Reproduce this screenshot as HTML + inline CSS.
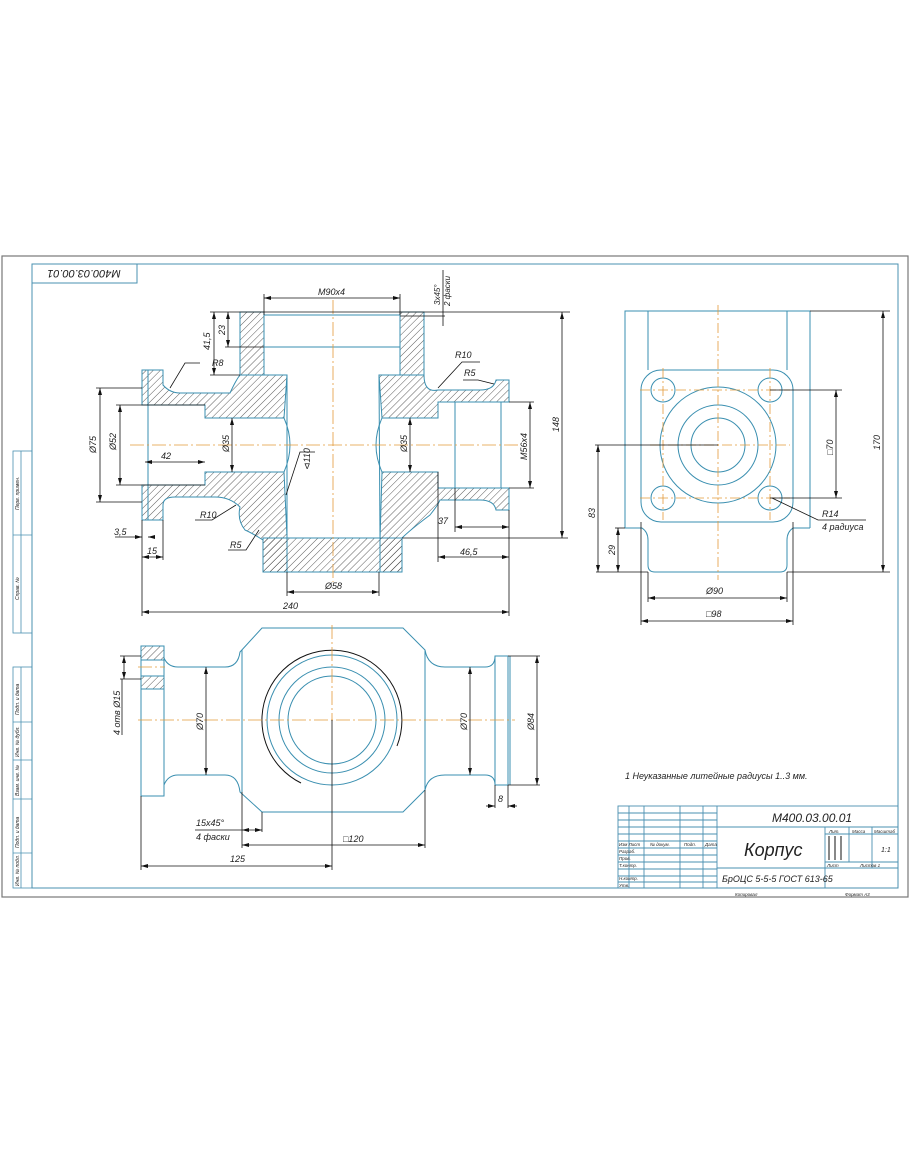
<!DOCTYPE html>
<html><head><meta charset="utf-8"><style>
html,body{margin:0;padding:0;background:#fff;}
svg{display:block;}
text{font-family:"Liberation Sans","DejaVu Sans",sans-serif;font-style:italic;fill:#222;}
</style></head><body>
<svg width="910" height="1155" viewBox="0 0 910 1155" xmlns="http://www.w3.org/2000/svg">
<defs>
<pattern id="h" width="5" height="5" patternUnits="userSpaceOnUse" patternTransform="rotate(45)">
<line x1="0" y1="0" x2="0" y2="5" stroke="#333" stroke-width="0.8"/>
</pattern>
<marker id="a" markerWidth="8" markerHeight="6" refX="7" refY="3" orient="auto-start-reverse" markerUnits="userSpaceOnUse"><path d="M0,1 L7,3 L0,5 z" fill="#111"/></marker>
</defs>
<!-- sheet -->
<rect x="2" y="256" width="906" height="641" fill="none" stroke="#777" stroke-width="1.2"/>
<rect x="32" y="264" width="866" height="624" fill="none" stroke="#4a90b0" stroke-width="1"/>
<rect x="32" y="264" width="105" height="19" fill="none" stroke="#4a90b0"/>
<text x="84" y="278" font-size="11" text-anchor="middle" transform="rotate(180 84 274)">М400.03.00.01</text>
<!-- left strip -->
<g stroke="#4a90b0" fill="none" stroke-width="0.8">
<rect x="13" y="451" width="19" height="182"/><line x1="21" y1="451" x2="21" y2="633"/><line x1="13" y1="535" x2="32" y2="535"/>
<rect x="13" y="667" width="19" height="221"/><line x1="21" y1="667" x2="21" y2="888"/>
<line x1="13" y1="722" x2="32" y2="722"/><line x1="13" y1="760" x2="32" y2="760"/><line x1="13" y1="799" x2="32" y2="799"/><line x1="13" y1="853" x2="32" y2="853"/>
</g>
<g font-size="5">
<text transform="translate(19 510) rotate(-90)">Перв. примен.</text>
<text transform="translate(19 600) rotate(-90)">Справ. №</text>
<text transform="translate(19 715) rotate(-90)">Подп. и дата</text>
<text transform="translate(19 757) rotate(-90)">Инв. № дубл.</text>
<text transform="translate(19 796) rotate(-90)">Взам. инв. №</text>
<text transform="translate(19 848) rotate(-90)">Подп. и дата</text>
<text transform="translate(19 886) rotate(-90)">Инв. № подл.</text>
</g>

<!-- FRONT SECTION VIEW -->
<g fill="url(#h)" stroke="#3a8fb0" stroke-width="1">
<rect x="240" y="312" width="24" height="63"/>
<rect x="400" y="312" width="24" height="63"/>
<path d="M142,370 L163,370 L163,385 Q170,393 180,393 L230,393 Q236,380 240,375 L287,375 L284,418 L205,418 L205,405 L163,405 L163,405 L142,405 Z"/>
<path d="M142,485 L205,485 L205,472 L284,472 L287,537 L287,572 L263,572 L263,540 Q252,533 245,530 Q237,520 240,507 Q230,497 215,497 L175,497 Q163,497 163,505 L163,520 L142,520 Z"/>
<rect x="263" y="538" width="139" height="34"/>
<path d="M379,375 L424,375 Q424,393 438,390 L480,390 Q494,390 496,380 L509,380 L509,402 L438,402 L438,418 L382,418 Z"/>
<path d="M382,472 L438,472 L438,488 L509,488 L509,510 L496,510 Q494,500 480,500 L440,500 Q438,505 430,515 Q410,530 402,538 L402,572 L380,572 L380,540 Z"/>
</g>
<g stroke="#3a8fb0" fill="none" stroke-width="1">
<path d="M264,315 L400,315 L400,347 L264,347 Z"/>
<path d="M284,418 Q296,445 284,472"/><path d="M382,418 Q370,445 382,472"/>
<line x1="148" y1="370" x2="148" y2="520"/><line x1="455" y1="402" x2="455" y2="488"/><line x1="501" y1="402" x2="501" y2="488"/>
<line x1="287" y1="375" x2="287" y2="538"/><line x1="379" y1="375" x2="380" y2="538"/>
</g>
<g stroke="#e39a3a" stroke-width="0.8" stroke-dasharray="14,3,2,3">
<line x1="130" y1="445" x2="520" y2="445"/><line x1="333" y1="300" x2="333" y2="582"/>
</g>
<g stroke="#111" stroke-width="0.8" fill="none">
<line x1="264" y1="298" x2="400" y2="298" marker-start="url(#a)" marker-end="url(#a)"/>
<line x1="264" y1="294" x2="264" y2="315"/><line x1="400" y1="294" x2="400" y2="315"/>
<line x1="210" y1="312" x2="570" y2="312"/><line x1="225" y1="347" x2="264" y2="347"/><line x1="210" y1="375" x2="240" y2="375"/>
<line x1="214" y1="312" x2="214" y2="375" marker-start="url(#a)" marker-end="url(#a)"/>
<line x1="228" y1="312" x2="228" y2="347" marker-start="url(#a)" marker-end="url(#a)"/>
<line x1="443" y1="270" x2="443" y2="326"/><line x1="400" y1="316" x2="445" y2="316"/>
<line x1="562" y1="312" x2="562" y2="538" marker-start="url(#a)" marker-end="url(#a)"/>
<line x1="402" y1="538" x2="568" y2="538"/>
<line x1="100" y1="388" x2="100" y2="502" marker-start="url(#a)" marker-end="url(#a)"/>
<line x1="96" y1="388" x2="142" y2="388"/><line x1="96" y1="502" x2="142" y2="502"/>
<line x1="120" y1="405" x2="120" y2="485" marker-start="url(#a)" marker-end="url(#a)"/>
<line x1="116" y1="405" x2="205" y2="405"/><line x1="116" y1="485" x2="205" y2="485"/>
<line x1="145" y1="462" x2="205" y2="462" marker-start="url(#a)" marker-end="url(#a)"/>
<line x1="232" y1="418" x2="232" y2="472" marker-start="url(#a)" marker-end="url(#a)"/>
<line x1="410" y1="418" x2="410" y2="472" marker-start="url(#a)" marker-end="url(#a)"/>
<line x1="530" y1="402" x2="530" y2="488" marker-start="url(#a)" marker-end="url(#a)"/>
<line x1="509" y1="402" x2="534" y2="402"/><line x1="509" y1="488" x2="534" y2="488"/>
<line x1="455" y1="488" x2="455" y2="532"/><line x1="438" y1="472" x2="438" y2="562"/><line x1="509" y1="510" x2="509" y2="616"/>
<line x1="455" y1="527" x2="509" y2="527" marker-start="url(#a)" marker-end="url(#a)"/>
<line x1="438" y1="557" x2="509" y2="557" marker-start="url(#a)" marker-end="url(#a)"/>
<line x1="142" y1="520" x2="142" y2="616"/><line x1="163" y1="520" x2="163" y2="560"/>
<line x1="115" y1="537" x2="142" y2="537" marker-end="url(#a)"/><line x1="155" y1="537" x2="148" y2="537" marker-end="url(#a)"/>
<line x1="142" y1="557" x2="163" y2="557" marker-start="url(#a)" marker-end="url(#a)"/>
<line x1="142" y1="612" x2="509" y2="612" marker-start="url(#a)" marker-end="url(#a)"/>
<line x1="287" y1="572" x2="287" y2="596"/><line x1="379" y1="572" x2="379" y2="596"/>
<line x1="287" y1="592" x2="379" y2="592" marker-start="url(#a)" marker-end="url(#a)"/>
<path d="M200,363 L185,363 L170,388"/><path d="M480,362 L462,362 L438,388"/><path d="M463,380 L478,380 L494,384"/>
<path d="M195,520 L212,520 L236,505"/><path d="M228,550 L246,550 L259,530"/><path d="M315,452 L300,452 L286,495"/>
</g>
<g font-size="9">
<text x="318" y="295">М90х4</text>
<text x="212" y="366">R8</text><text x="455" y="358">R10</text><text x="464" y="376">R5</text>
<text x="200" y="518">R10</text><text x="230" y="548">R5</text>
<text x="161" y="459">42</text><text x="438" y="524">37</text><text x="460" y="555">46,5</text>
<text x="114" y="535">3,5</text><text x="147" y="554">15</text>
<text x="283" y="609">240</text><text x="325" y="589">Ø58</text>
<text transform="translate(96 453) rotate(-90)">Ø75</text>
<text transform="translate(116 450) rotate(-90)">Ø52</text>
<text transform="translate(229 452) rotate(-90)">Ø35</text>
<text transform="translate(407 452) rotate(-90)">Ø35</text>
<text transform="translate(527 460) rotate(-90)">М56х4</text>
<text transform="translate(559 432) rotate(-90)">148</text>
<text transform="translate(210 350) rotate(-90)">41,5</text>
<text transform="translate(225 335) rotate(-90)">23</text>
<text transform="translate(310 470) rotate(-90)">⊲110</text>
<text transform="translate(440 305) rotate(-90)" font-size="8">3х45°</text>
<text transform="translate(450 306) rotate(-90)" font-size="8">2 фаски</text>
</g>

<!-- SIDE VIEW -->
<g stroke="#3a8fb0" fill="none" stroke-width="1">
<path d="M625,528 L625,311 L810,311 L810,528"/>
<line x1="648" y1="311" x2="648" y2="370"/><line x1="787" y1="311" x2="787" y2="370"/>
<rect x="641" y="370" width="152" height="152" rx="20"/>
<path d="M625,528 L642,528 Q648,532 648,540 L648,565 Q648,572 655,572 L780,572 Q787,572 787,565 L787,540 Q787,532 793,528 L810,528"/>
<circle cx="718" cy="445" r="58"/><circle cx="718" cy="445" r="40"/><circle cx="718" cy="445" r="27"/>
<circle cx="663" cy="390" r="12"/><circle cx="770" cy="390" r="12"/><circle cx="663" cy="498" r="12"/><circle cx="770" cy="498" r="12"/>
</g>
<g stroke="#e39a3a" stroke-width="0.8" stroke-dasharray="10,3,2,3">
<line x1="718" y1="305" x2="718" y2="580"/><line x1="650" y1="445" x2="790" y2="445"/>
<line x1="640" y1="390" x2="790" y2="390"/><line x1="640" y1="498" x2="790" y2="498"/>
<line x1="663" y1="368" x2="663" y2="520"/><line x1="770" y1="368" x2="770" y2="520"/>
</g>
<g stroke="#111" stroke-width="0.8" fill="none">
<line x1="810" y1="311" x2="890" y2="311"/><line x1="787" y1="572" x2="890" y2="572"/>
<line x1="883" y1="311" x2="883" y2="572" marker-start="url(#a)" marker-end="url(#a)"/>
<line x1="770" y1="390" x2="842" y2="390"/><line x1="770" y1="498" x2="842" y2="498"/>
<line x1="836" y1="390" x2="836" y2="498" marker-start="url(#a)" marker-end="url(#a)"/>
<line x1="595" y1="445" x2="718" y2="445"/><line x1="596" y1="572" x2="648" y2="572"/><line x1="615" y1="528" x2="625" y2="528"/>
<line x1="598" y1="445" x2="598" y2="572" marker-start="url(#a)" marker-end="url(#a)"/>
<line x1="618" y1="528" x2="618" y2="572" marker-start="url(#a)" marker-end="url(#a)"/>
<line x1="648" y1="572" x2="648" y2="602"/><line x1="787" y1="572" x2="787" y2="602"/>
<line x1="648" y1="598" x2="787" y2="598" marker-start="url(#a)" marker-end="url(#a)"/>
<line x1="641" y1="522" x2="641" y2="625"/><line x1="793" y1="522" x2="793" y2="625"/>
<line x1="641" y1="621" x2="793" y2="621" marker-start="url(#a)" marker-end="url(#a)"/>
<path d="M772,498 L818,520 L866,520"/>
</g>
<g font-size="9">
<text x="706" y="594">Ø90</text><text x="706" y="617">□98</text>
<text x="822" y="517">R14</text><text x="822" y="530">4 радиуса</text>
<text transform="translate(833 455) rotate(-90)">□70</text>
<text transform="translate(880 450) rotate(-90)">170</text>
<text transform="translate(595 518) rotate(-90)">83</text>
<text transform="translate(615 555) rotate(-90)">29</text>
</g>

<!-- TOP VIEW -->
<g stroke="#3a8fb0" fill="none" stroke-width="1">
<rect x="141" y="646" width="23" height="150"/>
<rect x="141" y="646" width="23" height="14" fill="url(#h)"/><rect x="141" y="676" width="23" height="13" fill="url(#h)"/>
<path d="M164,658 Q168,667 178,667 L225,667 Q238,667 240,652 L262,628 L403,628 L425,650 Q428,667 445,667 L485,667 Q495,667 495,656"/>
<path d="M164,785 Q168,775 178,775 L225,775 Q238,775 240,792 L262,812 L403,812 L425,790 Q428,775 445,775 L485,775 Q495,775 495,785"/>
<line x1="242" y1="650" x2="242" y2="792"/><line x1="425" y1="650" x2="425" y2="790"/>
<rect x="495" y="656" width="13" height="129"/><line x1="510" y1="656" x2="510" y2="785"/>
<circle cx="332" cy="720" r="65"/><circle cx="332" cy="720" r="53"/><circle cx="332" cy="720" r="44"/>
</g>
<path d="M301,783 A70,70 0 1,1 397,746" stroke="#111" fill="none" stroke-width="1"/>
<g stroke="#e39a3a" stroke-width="0.8" stroke-dasharray="14,3,2,3">
<line x1="138" y1="720" x2="515" y2="720"/><line x1="332" y1="625" x2="332" y2="720"/><line x1="138" y1="667" x2="165" y2="667"/>
</g>
<g stroke="#111" stroke-width="0.8" fill="none">
<line x1="332" y1="720" x2="332" y2="870"/>
<line x1="206" y1="667" x2="206" y2="775" marker-start="url(#a)" marker-end="url(#a)"/>
<line x1="470" y1="667" x2="470" y2="775" marker-start="url(#a)" marker-end="url(#a)"/>
<line x1="508" y1="656" x2="540" y2="656"/><line x1="508" y1="785" x2="540" y2="785"/>
<line x1="537" y1="656" x2="537" y2="785" marker-start="url(#a)" marker-end="url(#a)"/>
<line x1="495" y1="785" x2="495" y2="808"/><line x1="508" y1="785" x2="508" y2="808"/>
<line x1="486" y1="806" x2="495" y2="806" marker-end="url(#a)"/><line x1="517" y1="806" x2="508" y2="806" marker-end="url(#a)"/>
<line x1="120" y1="656" x2="141" y2="656"/><line x1="120" y1="679" x2="141" y2="679"/>
<line x1="124" y1="656" x2="124" y2="679" marker-start="url(#a)" marker-end="url(#a)"/><line x1="122" y1="679" x2="122" y2="735"/>
<line x1="242" y1="792" x2="242" y2="848"/><line x1="262" y1="812" x2="262" y2="832"/><line x1="425" y1="790" x2="425" y2="848"/>
<line x1="195" y1="830" x2="242" y2="830"/><line x1="242" y1="830" x2="262" y2="830" marker-start="url(#a)" marker-end="url(#a)"/>
<line x1="242" y1="845" x2="425" y2="845" marker-start="url(#a)" marker-end="url(#a)"/>
<line x1="141" y1="796" x2="141" y2="870"/>
<line x1="141" y1="866" x2="332" y2="866" marker-start="url(#a)" marker-end="url(#a)"/>
</g>
<g font-size="9">
<text x="196" y="826">15х45°</text><text x="196" y="840">4 фаски</text>
<text x="343" y="842">□120</text><text x="230" y="862">125</text><text x="498" y="802">8</text>
<text transform="translate(203 730) rotate(-90)">Ø70</text>
<text transform="translate(467 730) rotate(-90)">Ø70</text>
<text transform="translate(534 730) rotate(-90)">Ø84</text>
<text transform="translate(120 735) rotate(-90)">4 отв Ø15</text>
<text x="625" y="779">1 Неуказанные литейные радиусы 1..3 мм.</text>
</g>

<!-- TITLE BLOCK -->
<g stroke="#4a90b0" fill="none" stroke-width="0.9">
<rect x="618" y="806" width="280" height="82"/>
<line x1="717" y1="806" x2="717" y2="888"/>
<line x1="629" y1="806" x2="629" y2="888"/><line x1="644" y1="806" x2="644" y2="888"/>
<line x1="680" y1="806" x2="680" y2="888"/><line x1="703" y1="806" x2="703" y2="888"/>
<line x1="618" y1="813" x2="717" y2="813"/><line x1="618" y1="820" x2="717" y2="820"/><line x1="618" y1="827" x2="717" y2="827"/>
<line x1="618" y1="834" x2="717" y2="834"/><line x1="618" y1="841" x2="717" y2="841"/><line x1="618" y1="848" x2="717" y2="848"/>
<line x1="618" y1="855" x2="717" y2="855"/><line x1="618" y1="862" x2="717" y2="862"/><line x1="618" y1="869" x2="717" y2="869"/>
<line x1="618" y1="876" x2="717" y2="876"/><line x1="618" y1="882" x2="717" y2="882"/>
<line x1="717" y1="827" x2="898" y2="827"/><line x1="717" y1="868" x2="825" y2="868"/>
<line x1="825" y1="827" x2="825" y2="888"/><line x1="849" y1="827" x2="849" y2="862"/><line x1="872" y1="827" x2="872" y2="868"/>
<line x1="825" y1="834" x2="898" y2="834"/><line x1="825" y1="862" x2="898" y2="862"/><line x1="825" y1="868" x2="898" y2="868"/>
</g>
<g stroke="#111" stroke-width="1"><line x1="829" y1="836" x2="829" y2="860"/><line x1="835" y1="836" x2="835" y2="860"/><line x1="841" y1="836" x2="841" y2="860"/></g>
<g font-size="4.5">
<text x="619" y="846">Изм Лист</text><text x="650" y="846">№ докум.</text><text x="684" y="846">Подп.</text><text x="705" y="846">Дата</text>
<text x="619" y="853">Разраб.</text><text x="619" y="860">Пров.</text><text x="619" y="867">Т.контр.</text>
<text x="619" y="880">Н.контр.</text><text x="619" y="887">Утв.</text>
<text x="829" y="833">Лит.</text><text x="852" y="833">Масса</text><text x="874" y="833">Масштаб</text>
<text x="827" y="867">Лист</text><text x="860" y="867">Листов 1</text>
<text x="735" y="896">Копировал</text><text x="845" y="896">Формат А3</text>
</g>
<text x="772" y="822" font-size="12">М400.03.00.01</text>
<text x="744" y="856" font-size="18">Корпус</text>
<text x="722" y="882" font-size="9">БрОЦС 5-5-5 ГОСТ 613-65</text>
<text x="881" y="852" font-size="7">1:1</text>
</svg>
</body></html>
